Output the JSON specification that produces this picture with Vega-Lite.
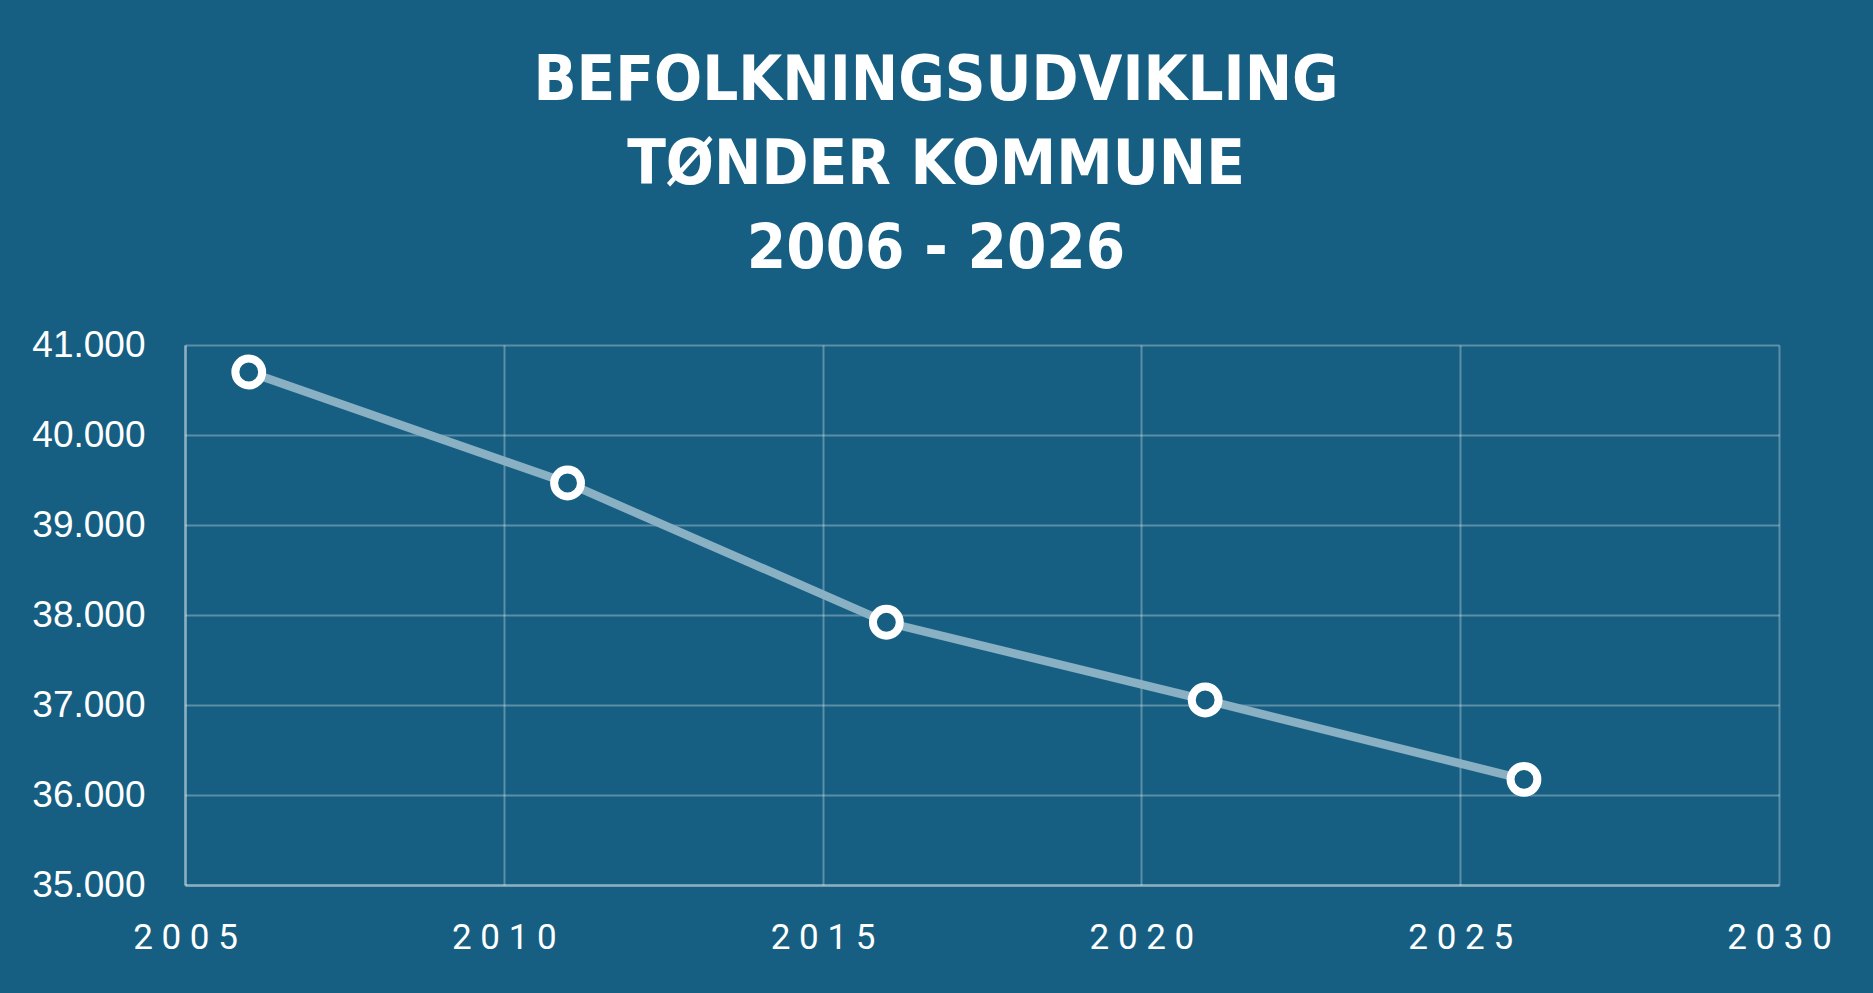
{
  "$schema": "https://vega.github.io/schema/vega-lite/v6.json",
  "width": 1594,
  "height": 540,
  "autosize": {"type": "none"},
  "padding": {"left": 185, "top": 345, "right": 94, "bottom": 108},
  "background": "#165f82",
  "config": {
    "view": {"stroke": null},
    "axis": {
      "gridColor": "#ffffff",
      "gridOpacity": 0.3,
      "gridWidth": 2,
      "domainColor": "#ffffff",
      "domainOpacity": 0.3,
      "domainWidth": 3,
      "ticks": false,
      "labelColor": "#ffffff",
      "title": null
    }
  },
  "title": {
    "text": ["BEFOLKNINGSUDVIKLING", "TØNDER KOMMUNE", "2006 - 2026"],
    "font": "DejaVu Sans Condensed",
    "fontWeight": "bold",
    "fontSize": 63,
    "lineHeight": 84,
    "color": "#ffffff",
    "anchor": "middle",
    "baseline": "bottom",
    "dx": -46,
    "offset": -18
  },
  "data": {
    "values": [
      {"year": 2006, "population": 40700},
      {"year": 2011, "population": 39467},
      {"year": 2016, "population": 37919},
      {"year": 2021, "population": 37056},
      {"year": 2026, "population": 36174}
    ]
  },
  "encoding": {
    "x": {
      "field": "year",
      "type": "quantitative",
      "scale": {"domain": [2005, 2030], "nice": false, "zero": false},
      "axis": {
        "values": [2005, 2010, 2015, 2020, 2025, 2030],
        "labelExpr": "join(split(format(datum.value, 'd'), ''), ' ')",
        "labelFont": "Roboto",
        "labelFontSize": 35,
        "labelPadding": 35,
        "labelFlush": false
      }
    },
    "y": {
      "field": "population",
      "type": "quantitative",
      "scale": {"domain": [35000, 41000], "nice": false, "zero": false},
      "axis": {
        "values": [35000, 36000, 37000, 38000, 39000, 40000, 41000],
        "labelExpr": "replace(format(datum.value, ',.0f'), ',', '.')",
        "labelFont": "Liberation Sans",
        "labelFontSize": 37,
        "labelPadding": 40
      }
    }
  },
  "layer": [
    {
      "mark": {"type": "line", "color": "#8ab0c4", "strokeWidth": 8.5}
    },
    {
      "mark": {
        "type": "point",
        "shape": "circle",
        "size": 720,
        "fill": "#165f82",
        "stroke": "#ffffff",
        "strokeWidth": 8,
        "opacity": 1,
        "filled": false
      }
    }
  ]
}
